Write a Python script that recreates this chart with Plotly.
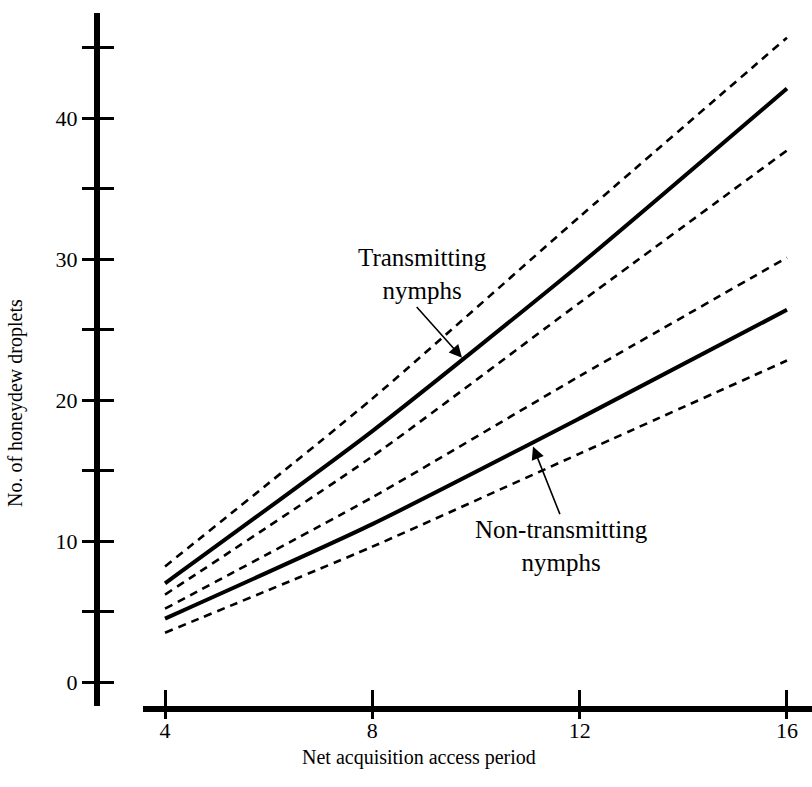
import plotly.graph_objects as go

# ---- data ----
period = [4, 8, 12, 16]
trans_mean = [7.0, 17.8, 29.6, 42.1]
trans_upper = [8.2, 20.1, 33.0, 45.7]
trans_lower = [6.2, 16.0, 26.9, 37.7]
non_mean = [4.5, 11.2, 18.7, 26.4]
non_upper = [5.2, 13.1, 21.7, 30.1]
non_lower = [3.5, 9.6, 16.2, 22.8]

x_ticks = [4, 8, 12, 16]
y_ticks = [0, 5, 10, 15, 20, 25, 30, 35, 40, 45]
y_ticktext = ["0", "", "10", "", "20", "", "30", "", "40", ""]

FONT = "Liberation Serif"
W, H = 812, 787
L, R, T, B = 97, 0, 13, 81
pw, ph = W - L - R, H - T - B

fig = go.Figure()

def add_line(y, solid, name):
    fig.add_trace(go.Scatter(
        x=period, y=y, mode="lines", name=name, showlegend=False,
        line=dict(color="black", width=4 if solid else 2.6,
                  dash="solid" if solid else "8px,6px", shape="spline", smoothing=0.6),
        hoverinfo="skip"))

add_line(trans_upper, False, "Transmitting upper")
add_line(trans_mean, True, "Transmitting nymphs")
add_line(trans_lower, False, "Transmitting lower")
add_line(non_upper, False, "Non-transmitting upper")
add_line(non_mean, True, "Non-transmitting nymphs")
add_line(non_lower, False, "Non-transmitting lower")

xdom0 = (143 - L) / pw
xrange = [3.575, 16.483]
yrange = [-1.70, 47.45]

common_x = dict(range=xrange, domain=[xdom0, 1], tickvals=x_ticks,
                showgrid=False, zeroline=False, tickwidth=2.5, tickcolor="black")
common_y = dict(range=yrange, domain=[0, 1], tickvals=y_ticks,
                showgrid=False, zeroline=False, tickwidth=2.5, tickcolor="black")

fig.update_layout(
    width=W, height=H,
    margin=dict(l=L, r=R, t=T, b=B),
    paper_bgcolor="white", plot_bgcolor="white",
    font=dict(family=FONT, color="black", size=20),
    xaxis=dict(**common_x, anchor="y", showline=True, linewidth=6, linecolor="black",
               ticks="inside", ticklen=16, ticklabelstandoff=0,
               tickfont=dict(family=FONT, size=22, color="black")),
    xaxis2=dict(**common_x, anchor="y", overlaying="x", showline=False,
                ticks="outside", ticklen=12, showticklabels=False),
    yaxis=dict(**common_y, anchor="free", position=0, showline=True, linewidth=6,
               linecolor="black", ticks="outside", ticklen=12,
               tickmode="array", ticktext=y_ticktext, ticklabelstandoff=0,
               tickfont=dict(family=FONT, size=22, color="black")),
    yaxis2=dict(**common_y, anchor="free", position=0, overlaying="y", showline=False,
                ticks="inside", ticklen=16, showticklabels=False),
)

# invisible trace to activate overlay axes
fig.add_trace(go.Scatter(x=[None], y=[None], xaxis="x2", yaxis="y2",
                         showlegend=False, hoverinfo="skip"))

def px_to_paper(px, py):
    return (px - L) / pw, (H - B - py) / ph

ann = []
tx, ty = px_to_paper(419, 757)
ann.append(dict(text="Net acquisition access period", x=tx, y=ty, xref="paper", yref="paper",
                showarrow=False, xanchor="center", yanchor="middle",
                font=dict(family=FONT, size=20)))
tx, ty = px_to_paper(15, 403)
ann.append(dict(text="No. of honeydew droplets", x=tx, y=ty, xref="paper", yref="paper",
                showarrow=False, textangle=-90, xanchor="center", yanchor="middle",
                font=dict(family=FONT, size=20)))
tx, ty = px_to_paper(422, 274)
ann.append(dict(text="Transmitting<br>nymphs", x=tx, y=ty, xref="paper", yref="paper",
                showarrow=False, xanchor="center", yanchor="middle", align="center",
                font=dict(family=FONT, size=25)))
tx, ty = px_to_paper(561, 546)
ann.append(dict(text="Non-transmitting<br>nymphs", x=tx, y=ty, xref="paper", yref="paper",
                showarrow=False, xanchor="center", yanchor="middle", align="center",
                font=dict(family=FONT, size=25)))
# arrows (data coordinates)
ann.append(dict(text="", x=9.73, y=23.0, ax=8.83, ay=26.7, xref="x", yref="y",
                axref="x", ayref="y", showarrow=True, arrowhead=2, arrowsize=1.6,
                arrowwidth=1.6, arrowcolor="black"))
ann.append(dict(text="", x=11.10, y=16.7, ax=11.63, ay=11.8, xref="x", yref="y",
                axref="x", ayref="y", showarrow=True, arrowhead=2, arrowsize=1.6,
                arrowwidth=1.6, arrowcolor="black"))
fig.update_layout(annotations=ann)

fig.write_html("out.html")
